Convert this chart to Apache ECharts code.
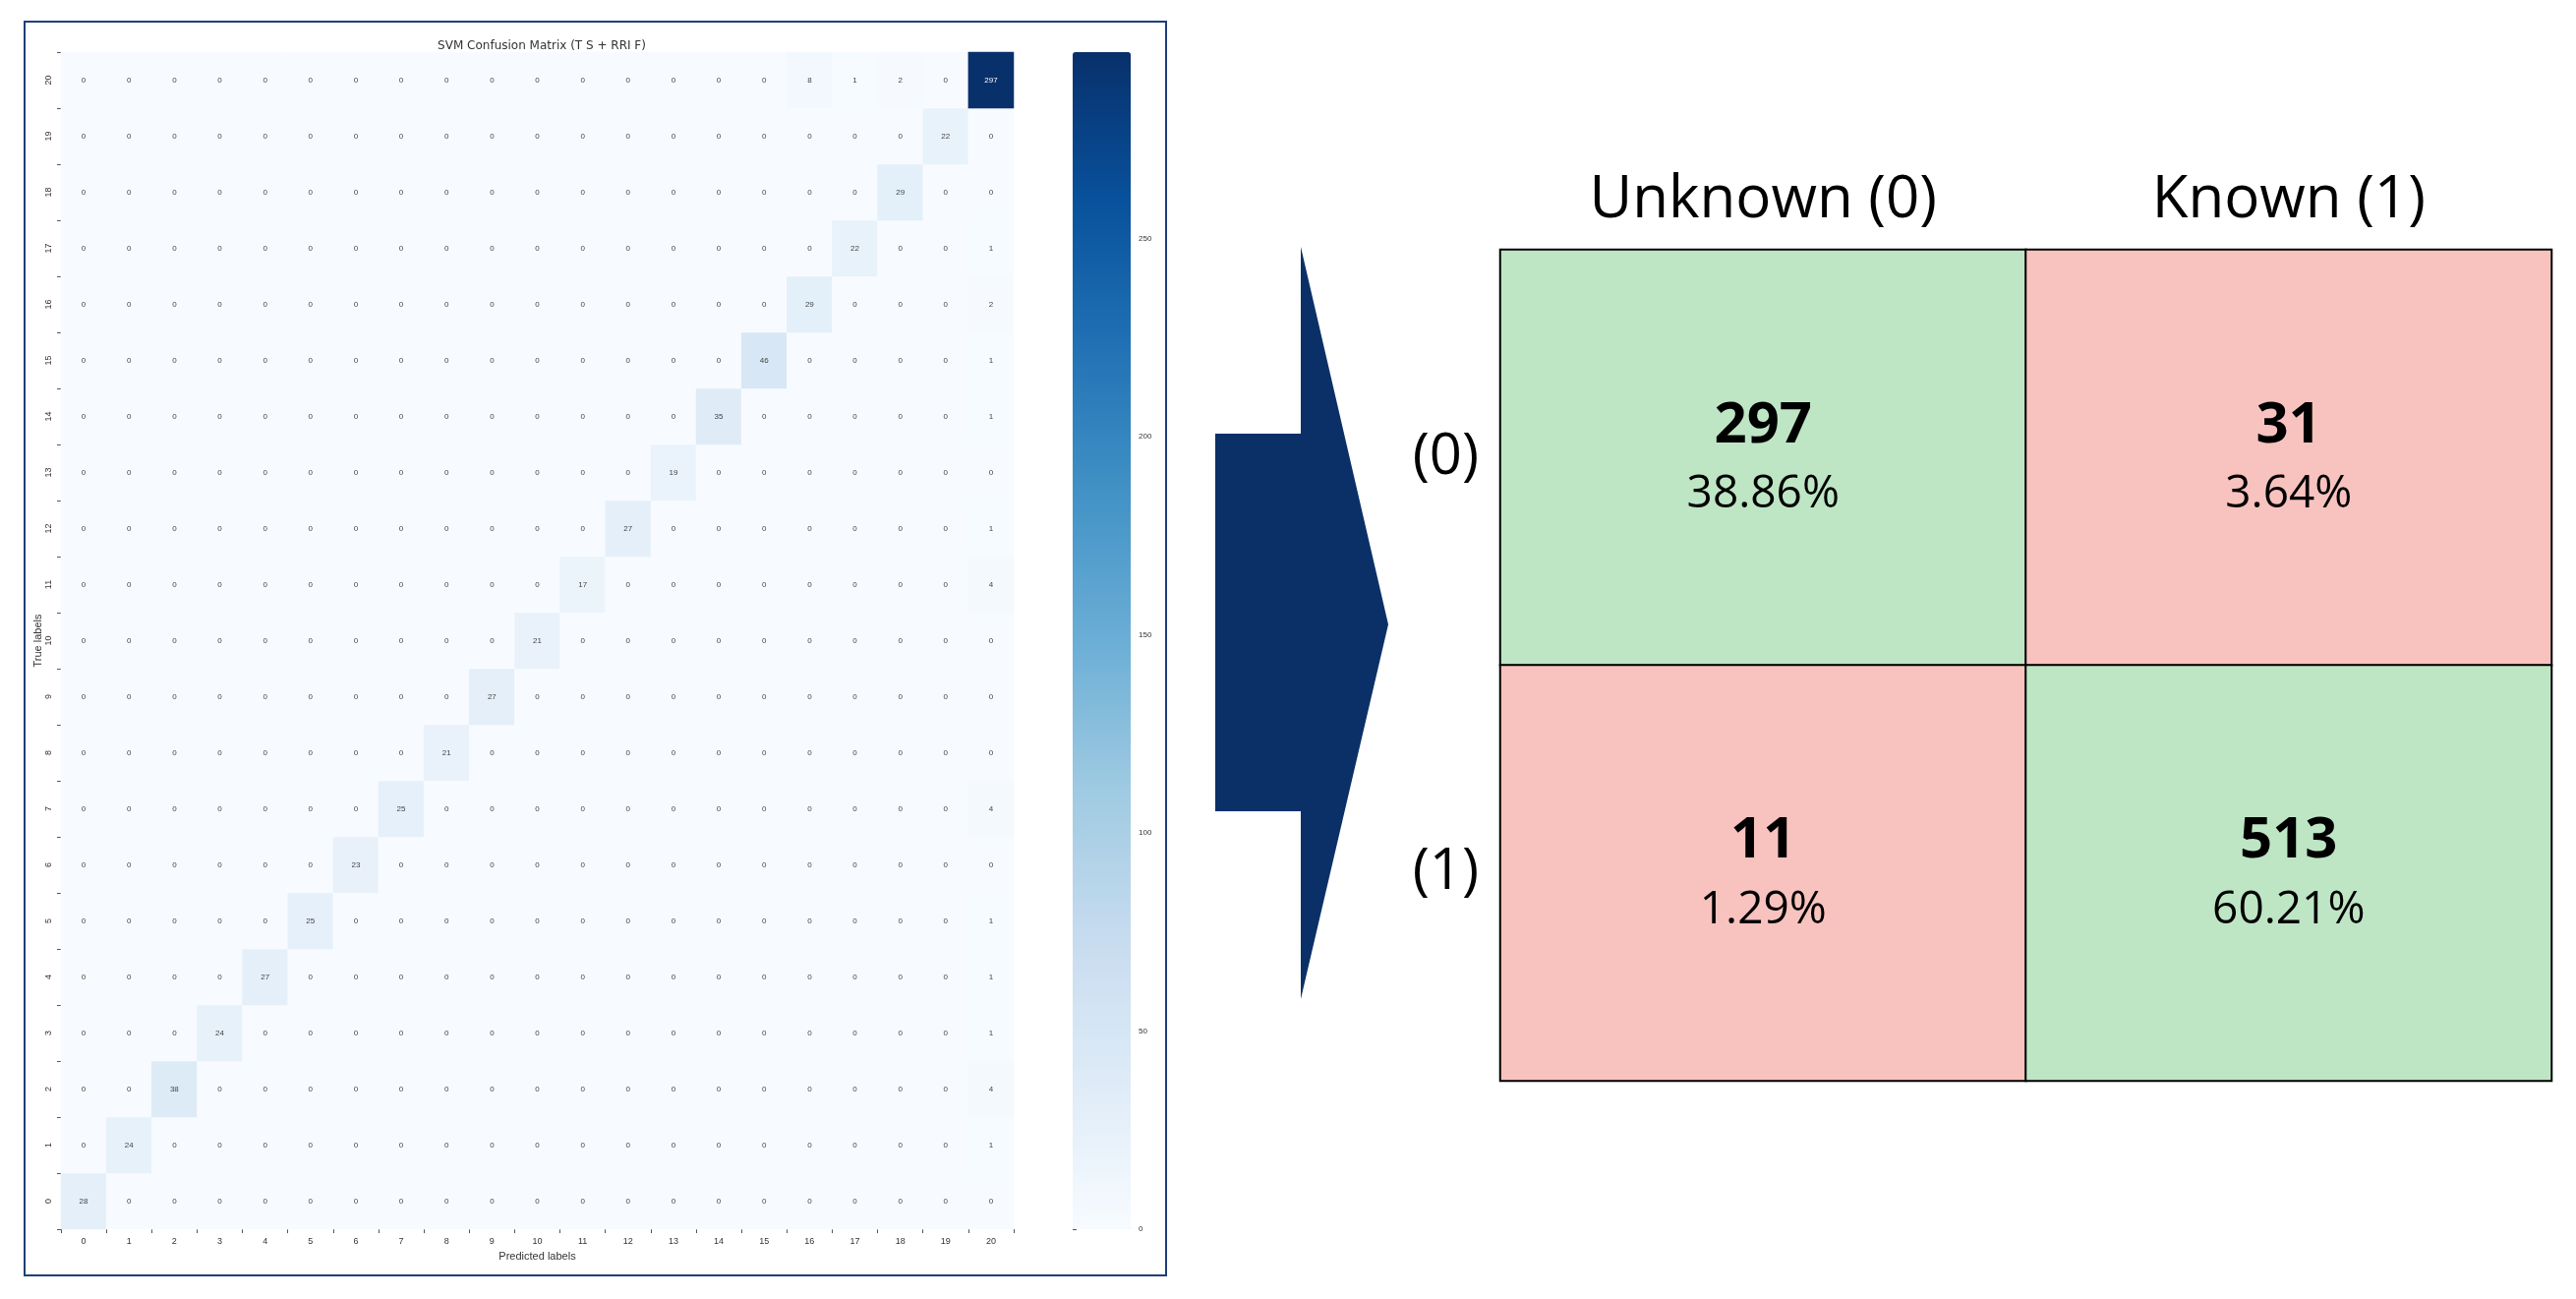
<!DOCTYPE html>
<html><head><meta charset="utf-8">
<script src="https://cdn.jsdelivr.net/npm/echarts@6/dist/echarts.min.js"></script>
<style>html,body{margin:0;padding:0;background:#fff}#c{width:2620px;height:1321px}</style>
</head><body><div id="c"></div>
<script>
const labels = Array.from({length:21},(_,i)=>String(i));
const diagonal = [28,24,38,24,27,25,23,25,21,27,21,17,27,19,35,46,29,22,29,22,297];
// [trueRow, predictedCol, value]
const offDiagonal = [[20,16,8],[20,17,1],[20,18,2],[17,20,1],[16,20,2],[15,20,1],[14,20,1],[12,20,1],[11,20,4],[7,20,4],[5,20,1],[4,20,1],[3,20,1],[2,20,4],[1,20,1]];
const cbTicks = [0,50,100,150,200,250];
const binCols = ['Unknown (0)','Known (1)'];
const binRows = ['(0)','(1)'];
const binCounts = [[297,31],[11,513]];
const binPct = [['38.86%','3.64%'],['1.29%','60.21%']];

const M = labels.map(()=>labels.map(()=>0));
diagonal.forEach((v,i)=>M[i][i]=v);
offDiagonal.forEach(([r,c,v])=>M[r][c]=v);
const heat=[];
for(let r=0;r<21;r++)for(let c=0;c<21;c++)heat.push({value:[c,r,M[r][c]],label:M[r][c]>150?{color:'#fff'}:undefined});
const bin=[];
for(let r=0;r<2;r++)for(let c=0;c<2;c++)bin.push({value:[c,r,binCounts[r][c]],pct:binPct[r][c],itemStyle:{color:r===c?'#bee6c5':'#f8c3bf',borderColor:'#000',borderWidth:2}});

const chart=echarts.init(document.getElementById('c'));
chart.setOption({
  animation:false,
  title:{text:'SVM Confusion Matrix (T S + RRI F)',left:546,top:36,textAlign:'center',textStyle:{fontSize:12,fontWeight:'normal',color:'#333',fontFamily:'DejaVu Sans'}},
  grid:[
    {left:62,top:53,width:969,height:1197},
    {left:1091,top:53,width:59,height:1197},
    {left:1526,top:254,width:1069,height:845}
  ],
  xAxis:[
    {gridIndex:0,type:'category',data:labels,axisLine:{show:false},axisTick:{show:true,length:4,lineStyle:{color:'#555'}},axisLabel:{fontSize:9,color:'#333'},name:'Predicted labels',nameLocation:'middle',nameGap:22,nameTextStyle:{fontSize:11,color:'#333'}},
    {gridIndex:1,type:'value',show:false},
    {gridIndex:2,type:'category',data:binCols,position:'top',axisLine:{show:false},axisTick:{show:false},axisLabel:{fontSize:60,color:'#000',margin:20,fontFamily:'Open Sans'}}
  ],
  yAxis:[
    {gridIndex:0,type:'category',data:labels,axisLine:{show:false},axisTick:{show:true,length:4,lineStyle:{color:'#555'}},axisLabel:{fontSize:9,color:'#333',rotate:90},name:'True labels',nameLocation:'middle',nameGap:18,nameTextStyle:{fontSize:11,color:'#333'}},
    {gridIndex:1,type:'value',min:0,max:297,interval:50,position:'right',axisLine:{show:false},axisTick:{show:true,length:4,lineStyle:{color:'#555'}},axisLabel:{fontSize:8,color:'#333',showMaxLabel:false,formatter:v=>cbTicks.includes(v)?String(v):''},splitLine:{show:false}},
    {gridIndex:2,type:'category',data:binRows,inverse:true,axisLine:{show:false},axisTick:{show:false},axisLabel:{fontSize:58,color:'#000',margin:22,fontFamily:'Open Sans'}}
  ],
  visualMap:[{type:'continuous',seriesIndex:0,min:0,max:297,calculable:false,orient:'vertical',left:1091,top:53,itemWidth:59,itemHeight:1197,padding:0,showLabel:false,textStyle:{color:'rgba(0,0,0,0)',fontSize:1},
    inRange:{color:['#f7fbff','#deebf7','#c6dbef','#9ecae1','#6baed6','#4292c6','#2171b5','#08519c','#08306b']}}],
  graphic:[
    {type:'rect',shape:{x:25,y:22,width:1161,height:1275},style:{fill:'none',stroke:'#1f3f7a',lineWidth:2},z:10},
    {type:'polygon',shape:{points:[[1236,441],[1323,441],[1323,251],[1412,635],[1323,1016],[1323,825],[1236,825]]},style:{fill:'#0b3068'}}
  ],
  series:[
    {type:'heatmap',xAxisIndex:0,yAxisIndex:0,data:heat,label:{show:true,fontSize:8,color:'#444',formatter:p=>p.value[2]}},
    {type:'heatmap',xAxisIndex:2,yAxisIndex:2,data:bin,
      label:{show:true,formatter:p=>'{a|'+p.value[2]+'}\n{b|'+p.data.pct+'}',
        rich:{a:{fontSize:58,fontWeight:'bold',color:'#000',fontFamily:'Open Sans',lineHeight:76},b:{fontSize:46,color:'#000',fontFamily:'Open Sans',lineHeight:64}}}}
  ]
});
</script></body></html>
